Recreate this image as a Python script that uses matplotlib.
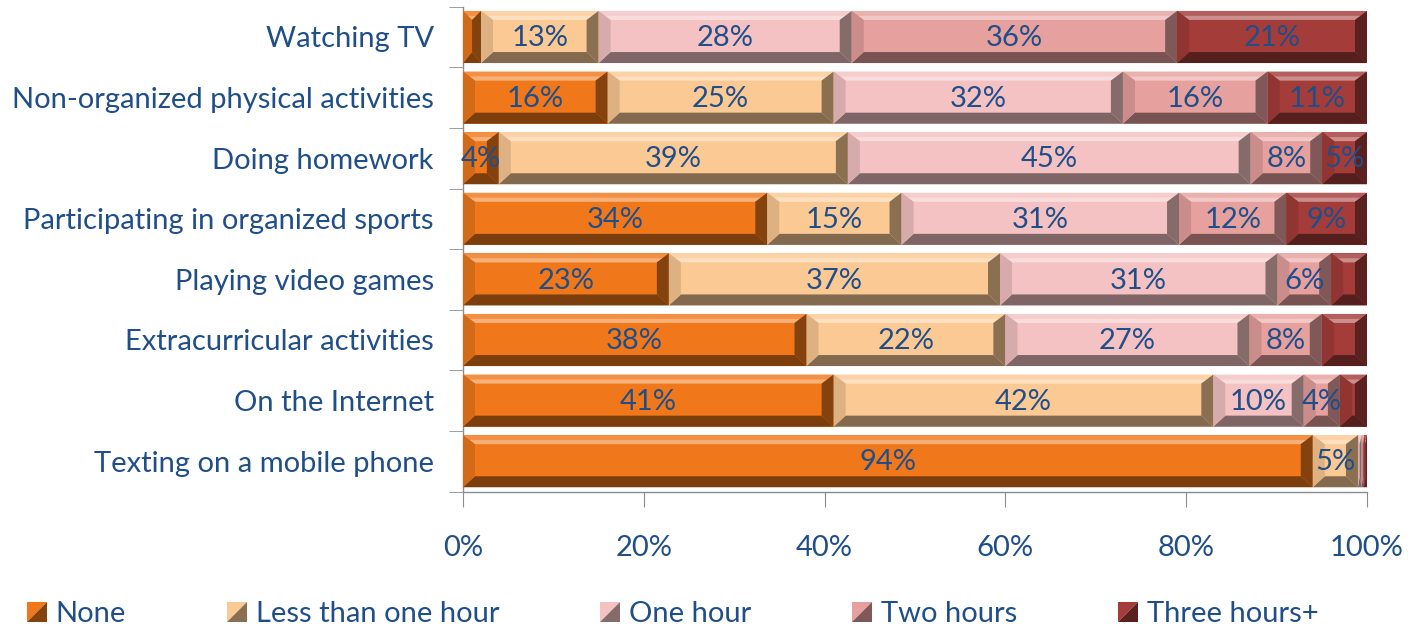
import numpy as np
import matplotlib
matplotlib.use("Agg")
import matplotlib.pyplot as plt
from matplotlib.patches import Polygon, Rectangle
from matplotlib.legend_handler import HandlerBase
from matplotlib.colors import to_rgb

# ---------------- data ----------------
categories = ["Watching TV", "Non-organized physical activities", "Doing homework",
              "Participating in organized sports", "Playing video games",
              "Extracurricular activities", "On the Internet", "Texting on a mobile phone"]
series_names = ["None", "Less than one hour", "One hour", "Two hours", "Three hours+"]
none_vals = [2, 16, 4, 34, 23, 38, 41, 94]
less_vals = [13, 25, 39, 15, 37, 22, 42, 5]
one_vals = [28, 32, 45, 31, 31, 27, 10, 0.4]
two_vals = [36, 16, 8, 12, 6, 8, 4, 0.3]
three_vals = [21, 11, 5, 9, 4, 5, 3, 0.3]
# (row, series) pairs whose data label is not shown
hidden_labels = {(0, 0), (4, 4), (5, 4), (6, 4), (7, 2), (7, 3), (7, 4)}
x_ticks = [0, 20, 40, 60, 80, 100]
x_tick_labels = ["0%", "20%", "40%", "60%", "80%", "100%"]

# ---------------- style ----------------
face_colors = ["#F0781A", "#FBC994", "#F4C2C2", "#E6A09E", "#A43C39"]
text_color = "#1F4E89"
axis_color = "#8C8C8C"
FONT = ["Lato", "DejaVu Sans"]
FS = 21

def blend(c, other, t):
    c = np.array(to_rgb(c)); o = np.array(to_rgb(other))
    return tuple(c * (1 - t) + o * t)

W, H = 1416, 627
fig = plt.figure(figsize=(W / 100, H / 100), dpi=100)
ax = fig.add_axes([463 / W, 1 - 491.5 / H, 904 / W, 484.8 / H])

data = np.array([none_vals, less_vals, one_vals, two_vals, three_vals], dtype=float)
totals = data.sum(axis=0)
pct = data / totals * 100
n = len(categories)
ypos = np.arange(n)[::-1]
bar_h = 0.86

ax.set_xlim(0, 100)
ax.set_ylim(-0.5, n - 0.5)

px_per_x = 904 / 100.0
px_per_y = 484.8 / n
dx_px, dyt_px, dyb_px = 12, 9, 11
dx = dx_px / px_per_x
dyt = dyt_px / px_per_y
dyb = dyb_px / px_per_y

left = np.zeros(n)
for s in range(len(series_names)):
    face = face_colors[s]
    bars = ax.barh(ypos, pct[s], left=left, height=bar_h, color=face,
                   edgecolor="none", zorder=2)
    for i, rect in enumerate(bars):
        x0 = rect.get_x(); w = rect.get_width()
        x1 = x0 + w
        yb = rect.get_y(); yt = yb + rect.get_height()
        d = min(dx, w / 2)
        top_outer = blend(face, "white", 0.18)
        top_inner = blend(face, "white", 0.42)
        polys = [
            ([(x0, yt), (x1, yt), (x1 - d, yt - dyt), (x0 + d, yt - dyt)], top_outer),
            ([(x0 + d * 0.5, yt - dyt * 0.55), (x1 - d * 0.5, yt - dyt * 0.55),
              (x1 - d, yt - dyt), (x0 + d, yt - dyt)], top_inner),
            ([(x0, yb), (x1, yb), (x1 - d, yb + dyb), (x0 + d, yb + dyb)], blend(face, "black", 0.48)),
            ([(x0, yb), (x0, yt), (x0 + d, yt - dyt), (x0 + d, yb + dyb)], blend(face, "black", 0.12)),
            ([(x1, yb), (x1, yt), (x1 - d, yt - dyt), (x1 - d, yb + dyb)], blend(face, "black", 0.45)),
        ]
        for pts, col in polys:
            ax.add_patch(Polygon(pts, closed=True, facecolor=col, edgecolor="none", zorder=3))
        if (i, s) not in hidden_labels:
            ax.text(x0 + w / 2, ypos[i] - 0.02, f"{data[s][i]:.0f}%", ha="center", va="center",
                    color=text_color, fontsize=FS, family=FONT, zorder=5)
    left += pct[s]

# axes styling
for sp in ["top", "right"]:
    ax.spines[sp].set_visible(False)
for sp in ["left", "bottom"]:
    ax.spines[sp].set_color(axis_color)
    ax.spines[sp].set_linewidth(1.0)

ax.set_yticks(ypos)
ax.set_yticklabels(categories, family=FONT, fontsize=FS, color=text_color)
ax.set_yticks(np.arange(n + 1) - 0.5, minor=True)
ax.tick_params(axis="y", which="major", length=0, pad=21)
ax.tick_params(axis="y", which="minor", length=10, color=axis_color, direction="out")
ax.set_xticks(x_ticks)
ax.set_xticklabels(x_tick_labels, family=FONT, fontsize=FS, color=text_color)
ax.tick_params(axis="x", which="major", length=11, color=axis_color, pad=20)
ax.tick_params(axis="x", which="minor", length=0)

# legend with bevelled square markers
class BevelHandler(HandlerBase):
    def create_artists(self, legend, orig_handle, xdescent, ydescent, width, height, fontsize, trans):
        face = orig_handle.get_facecolor()
        s = min(width, height * 1.25)
        x0 = xdescent * -1 + (width - s) / 2
        y0 = -ydescent + (height - s) / 2
        p1 = Polygon([(x0, y0), (x0, y0 + s), (x0 + s, y0 + s)], closed=True,
                     facecolor=face, edgecolor="none", transform=trans)
        p2 = Polygon([(x0, y0), (x0 + s, y0), (x0 + s, y0 + s)], closed=True,
                     facecolor=blend(face, "black", 0.45), edgecolor="none", transform=trans)
        return [p1, p2]

handles = [Rectangle((0, 0), 1, 1, facecolor=c) for c in face_colors]
leg = fig.legend(handles, series_names, loc="center left", bbox_to_anchor=(0.0105, 1 - 614 / H),
                 ncol=5, frameon=False, handler_map={Rectangle: BevelHandler()},
                 prop={"family": FONT, "size": FS}, handlelength=0.7, handleheight=0.65,
                 handletextpad=0.3, columnspacing=3.45, borderaxespad=0)
for t in leg.get_texts():
    t.set_color(text_color)

fig.savefig("out.png", dpi=100)
